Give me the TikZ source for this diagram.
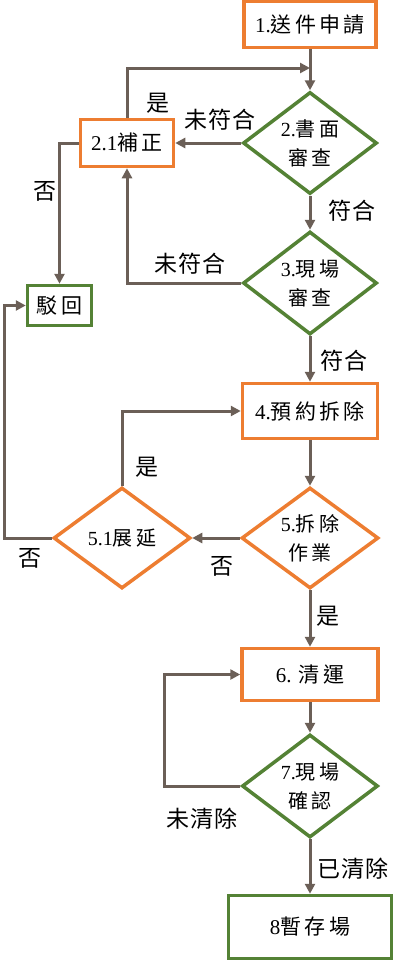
\documentclass[tikz,border=0pt]{standalone}
\usepackage{fontspec}
\setmainfont{Liberation Serif}
\newfontfamily\cjk[LetterSpace=4]{Noto Sans CJK TC}
\newfontfamily\cjks[LetterSpace=16]{Noto Sans CJK TC}
\usetikzlibrary{shapes.geometric,arrows.meta}
\definecolor{orng}{HTML}{ED7D31}
\definecolor{grn}{HTML}{548235}
\definecolor{arr}{HTML}{6B5F57}
\tikzset{
  obox/.style={draw=orng,line width=3.5pt,rectangle,inner sep=0pt,font=\fontsize{21}{28}\selectfont},
  gbox/.style={draw=grn,line width=3.5pt,rectangle,inner sep=0pt,font=\fontsize{21}{28}\selectfont},
  dia/.style={diamond,line width=3.5pt,inner sep=0pt,aspect=1.3,align=center,font=\fontsize{20}{29}\selectfont},
  odia/.style={dia,draw=orng},
  gdia/.style={dia,draw=grn},
  conn/.style={draw=arr,line width=3pt,-{Triangle[length=10pt,width=10pt]}},
  lbl/.style={font=\fontsize{23}{26}\selectfont\cjk,inner sep=0pt}
}
\begin{document}
\begin{tikzpicture}[x=1pt,y=-1pt]
\useasboundingbox (0,0) rectangle (406,962);
% nodes
\node[obox,minimum width=132pt,minimum height=46pt] (b1) at (310,24.5) {1.{\cjks 送件申請}};
\node[gdia,minimum width=134pt,minimum height=102pt] (d2) at (310,143) {2.{\cjks 書面}\\{\cjks 審查}};
\node[obox,minimum width=93pt,minimum height=47pt] (b21) at (127,143) {2.1{\cjks 補正}};
\node[gbox,minimum width=64pt,minimum height=40pt] (rej) at (59.5,305.5) {\cjks 駁回};
\node[gdia,minimum width=134pt,minimum height=103pt] (d3) at (310,283) {3.{\cjks 現場}\\{\cjks 審查}};
\node[obox,minimum width=135pt,minimum height=55pt] (b4) at (310,411) {4.{\cjks 預約拆除}};
\node[odia,minimum width=137pt,minimum height=101pt] (d5) at (310,538) {5.{\cjks 拆除}\\{\cjks 作業}};
\node[odia,minimum width=137pt,minimum height=101pt] (d51) at (122,538) {5.1{\cjks 展延}};
\node[obox,minimum width=136pt,minimum height=52pt] (b6) at (310,674.5) {6. {\cjks 清運}};
\node[gdia,minimum width=136pt,minimum height=103pt] (d7) at (310,786) {7.{\cjks 現場}\\{\cjks 確認}};
\node[gbox,minimum width=163pt,minimum height=63pt] (b8) at (310,927) {8{\cjks 暫存場}};
% helper coordinates
\coordinate (j1) at (310,68);
\coordinate (c1) at (4,538);
\coordinate (c2) at (164,786);
% connectors
\draw[conn] (b1.south) -- (d2.north);
\draw[conn] (b21.north) |- (j1);
\draw[conn] (d2.west) -- (b21.east);
\draw[conn] (b21.west) -| (rej.north);
\draw[conn] (d2.south) -- (d3.north);
\draw[conn] (d3.west) -| (b21.south);
\draw[conn] (d3.south) -- (b4.north);
\draw[conn] (b4.south) -- (d5.north);
\draw[conn] (d5.west) -- (d51.east);
\draw[conn] (d51.north) |- (b4.west);
\draw[conn] (d51.west) -- (c1) |- (rej.west);
\draw[conn] (d5.south) -- (b6.north);
\draw[conn] (b6.south) -- (d7.north);
\draw[conn] (d7.west) -- (c2) |- (b6.west);
\draw[conn] (d7.south) -- (b8.north);
% labels
\node[lbl] (l1) at (158,103) {是};
\node[lbl] (l2) at (220,120) {未符合};
\node[lbl] (l3) at (45,191) {否};
\node[lbl] (l4) at (352,211) {符合};
\node[lbl] (l5) at (190,264) {未符合};
\node[lbl] (l6) at (344,361) {符合};
\node[lbl] (l7) at (147,467) {是};
\node[lbl] (l8) at (30,558) {否};
\node[lbl] (l9) at (222,566) {否};
\node[lbl] (l10) at (328,616) {是};
\node[lbl] (l11) at (202,819) {未清除};
\node[lbl] (l12) at (353,869) {已清除};
\end{tikzpicture}
\end{document}
